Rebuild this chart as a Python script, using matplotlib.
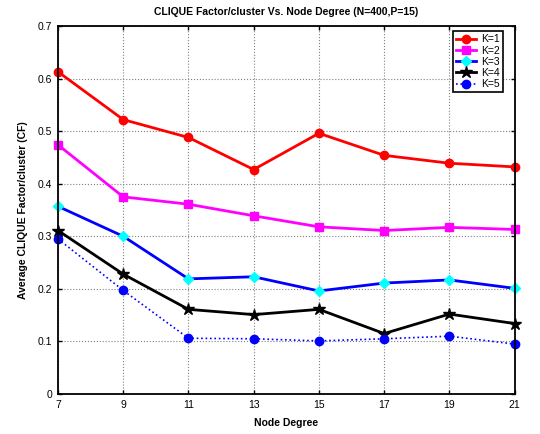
import matplotlib
matplotlib.use('Agg')
import matplotlib.pyplot as plt

plt.rcParams.update({'font.family': ['Liberation Sans', 'DejaVu Sans'],
                     'font.size': 7.5})

degree = [7, 9, 11, 13, 15, 17, 19, 21]
k1 = [0.613, 0.522, 0.488, 0.427, 0.496, 0.454, 0.439, 0.432]
k2 = [0.474, 0.375, 0.361, 0.339, 0.318, 0.311, 0.317, 0.313]
k3 = [0.357, 0.300, 0.219, 0.223, 0.196, 0.211, 0.217, 0.201]
k4 = [0.311, 0.228, 0.161, 0.151, 0.161, 0.115, 0.152, 0.134]
k5 = [0.295, 0.197, 0.106, 0.105, 0.101, 0.105, 0.110, 0.095]
labels = ['K=1', 'K=2', 'K=3', 'K=4', 'K=5']

fig = plt.figure(figsize=(5.4, 4.34), dpi=100)
ax = fig.add_axes([0.1074, 0.0922, 0.8456, 0.8478])

ax.plot(degree, k1, color='red', marker='o', ms=6, lw=2, label=labels[0], clip_on=False)
ax.plot(degree, k2, color='magenta', marker='s', ms=5.5, lw=2, label=labels[1], clip_on=False)
ax.plot(degree, k3, color='blue', marker='D', ms=5, lw=2, mfc='cyan', mec='cyan', label=labels[2], clip_on=False)
ax.plot(degree, k4, color='black', marker='*', ms=9, lw=2, label=labels[3], clip_on=False)
ax.plot(degree, k5, color='blue', marker='o', ms=6, lw=1.2, ls=':', label=labels[4], clip_on=False)

ax.set_xlim(7, 21)
ax.set_ylim(0, 0.7)
ax.set_xticks(degree)
ax.set_yticks([0, 0.1, 0.2, 0.3, 0.4, 0.5, 0.6, 0.7])
ax.set_yticklabels(['0', '0.1', '0.2', '0.3', '0.4', '0.5', '0.6', '0.7'])
ax.tick_params(direction='in', top=True, right=True, length=3, width=1, labelsize=7.5, pad=4)
ax.grid(True, ls=':', color='gray', lw=0.8)
for s in ax.spines.values():
    s.set_linewidth(1.3)

ax.set_xlabel('Node Degree', fontweight='bold', labelpad=6)
ax.set_ylabel('Average CLIQUE Factor/cluster (CF)', fontweight='bold', labelpad=7)
ax.set_title('CLIQUE Factor/cluster Vs. Node Degree (N=400,P=15)', fontweight='bold', fontsize=7.5, pad=8)

leg = ax.legend(loc='upper right', fancybox=False, framealpha=1, edgecolor='black',
                handlelength=1.9, handletextpad=0.5, borderpad=0.3, labelspacing=0.12, fontsize=7.5,
                bbox_to_anchor=(0.974, 0.986), borderaxespad=0)
leg.get_frame().set_linewidth(1.2)

fig.savefig('out.png', dpi=100)
